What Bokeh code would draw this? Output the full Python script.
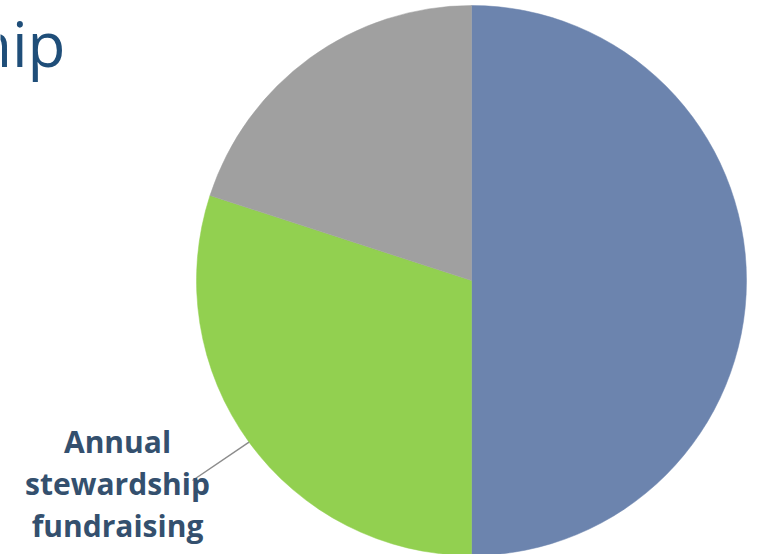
import numpy as np
from bokeh.plotting import figure
from bokeh.models import ColumnDataSource
from bokeh.core.properties import value
from bokeh.embed import file_html
from bokeh.resources import INLINE

# Data
categories = ["Other (blue)", "Annual stewardship fundraising", "Other (gray)"]
shares = [50, 30, 20]
colors = ["#6c84ae", "#92d050", "#a0a0a0"]
title_text = "Stewardship"
label_lines = ["Annual", "stewardship", "fundraising"]

W, H = 759, 554
cx, cy, R = 471, H - 280, 275

p = figure(width=W, height=H, x_range=(0, W), y_range=(0, H),
           output_backend="svg", toolbar_location=None, min_border=0)
p.axis.visible = False
p.grid.visible = False
p.outline_line_color = None
p.background_fill_color = "white"

vals = np.array(shares, dtype=float)
angles = vals / vals.sum() * 2 * np.pi
start = np.pi / 2 - np.concatenate([[0], np.cumsum(angles)[:-1]])
end = start - angles
src = ColumnDataSource(dict(start=start, end=end, color=colors, cat=categories))
p.wedge(x=cx, y=cy, radius=R, start_angle="start", end_angle="end",
        direction="clock", fill_color="color", line_color="color", line_width=0.5,
        source=src)

# leader line from green slice mid-angle
mid = (start[1] + end[1]) / 2
ex, ey = cx + R * np.cos(mid), cy + R * np.sin(mid)
p.line([ex, 192], [ey, H - 480], line_color="#8c8c8c", line_width=1.5)

# label
p.text(x=[117] * 3, y=[H - 441, H - 483, H - 525], text=label_lines,
       text_font=value("Open Sans"), text_font_style="bold",
       text_font_size="30px", text_color="#34506e",
       text_align="center", text_baseline="middle")

# cropped title
p.text(x=[65], y=[H - 42], text=[title_text], text_font=value("Open Sans"),
       text_font_size="62px", text_color="#1f4e79",
       text_align="right", text_baseline="middle")

open("out.html", "w").write(file_html(p, INLINE))
